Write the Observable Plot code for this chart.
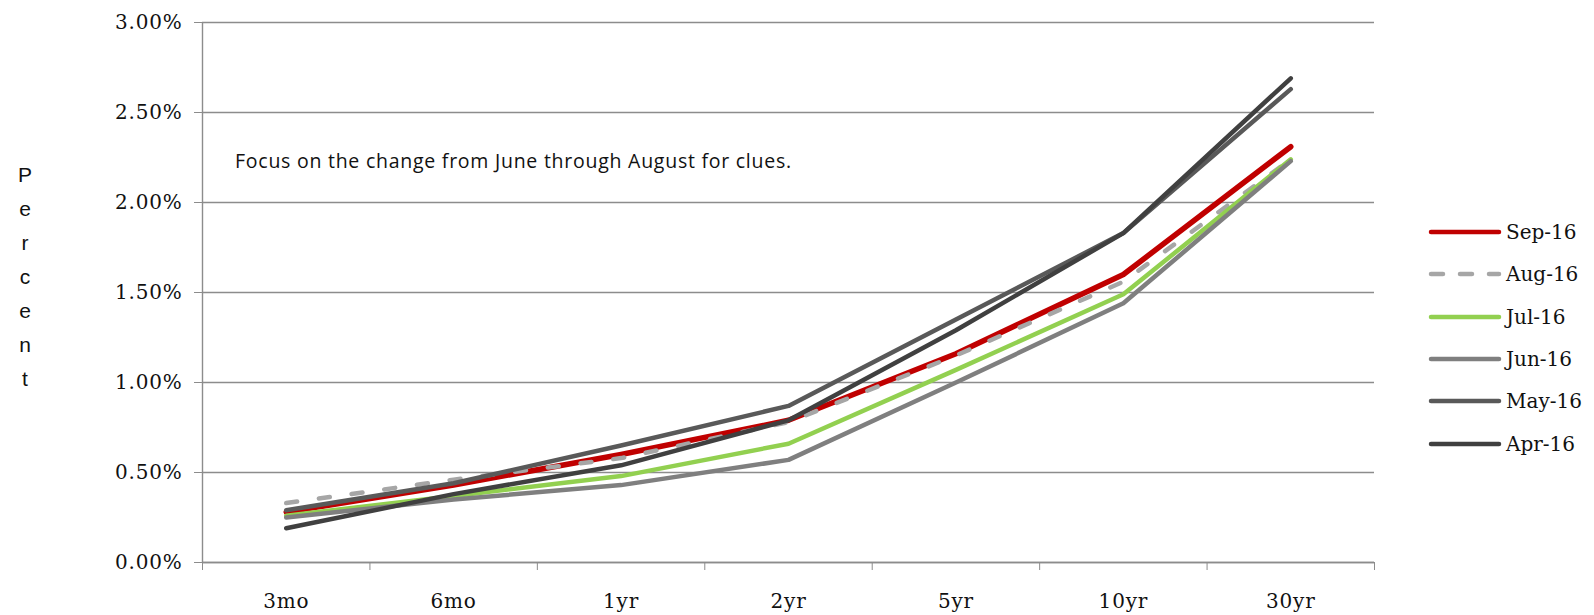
<!DOCTYPE html>
<html>
<head>
<meta charset="utf-8">
<script src="https://cdn.jsdelivr.net/npm/d3@7"></script>
<script src="https://cdn.jsdelivr.net/npm/@observablehq/plot@0.6"></script>
<style>
  html, body { margin: 0; padding: 0; background: #fff; }
  #wrap { position: relative; width: 1594px; height: 615px; overflow: hidden; }
  #ylabel { position: absolute; left: 13px; top: 158px; width: 24px; text-align: center;
    font-family: "Liberation Sans", Arial, sans-serif; font-size: 21px; line-height: 34px; color: #111; }
  #note { position: absolute; left: 235px; top: 147px; font-family: "Open Sans", sans-serif; font-size: 19.5px; letter-spacing: 0.75px; color: #111; white-space: nowrap; }
  #legend { position: absolute; left: 1428px; top: 211px; font-family: "DejaVu Serif", serif; font-size: 20px; color: #111; }
  .row { display: flex; align-items: center; height: 42.3px; }
  .row svg { margin-right: 4px; }
</style>
</head>
<body>
<div id="wrap">
  <div id="chart"></div>
  <div id="ylabel"></div>
  <div id="note"></div>
  <div id="legend"></div>
</div>
<script>
const categories = ["3mo", "6mo", "1yr", "2yr", "5yr", "10yr", "30yr"];
const seriesNames = ["Sep-16", "Aug-16", "Jul-16", "Jun-16", "May-16", "Apr-16"];
const sep16 = [0.28, 0.43, 0.60, 0.79, 1.16, 1.60, 2.31];
const aug16 = [0.33, 0.46, 0.58, 0.78, 1.15, 1.56, 2.24];
const jul16 = [0.26, 0.37, 0.48, 0.66, 1.07, 1.49, 2.24];
const jun16 = [0.25, 0.35, 0.43, 0.57, 1.00, 1.44, 2.23];
const may16 = [0.29, 0.44, 0.65, 0.87, 1.35, 1.83, 2.63];
const apr16 = [0.19, 0.38, 0.54, 0.79, 1.29, 1.83, 2.69];
const yTicks = [0, 0.5, 1.0, 1.5, 2.0, 2.5, 3.0];
const yLabelText = "Percent";
const noteText = "Focus on the change from June through August for clues.";

const seriesValues = [sep16, aug16, jul16, jun16, may16, apr16];
const colors = ["#c00000", "#a6a6a6", "#92d050", "#7f7f7f", "#595959", "#404040"];
const widths = [5.5, 4.5, 4.5, 4.5, 4.5, 4.5];
const dashes = [null, "11,22", null, null, null, null];

const rows = [];
seriesNames.forEach((name, s) => {
  seriesValues[s].forEach((v, i) => rows.push({series: name, tenor: categories[i], pos: i + 0.5, value: v}));
});

const lineMarks = seriesNames.map((name, s) =>
  Plot.line(rows.filter(r => r.series === name), {
    x: "pos", y: "value",
    stroke: colors[s], strokeWidth: widths[s],
    strokeDasharray: dashes[s] || undefined,
    strokeLinecap: "round", strokeLinejoin: "round"
  })
);

const boundaries = d3.range(0, categories.length + 1);
const centers = categories.map((c, i) => i + 0.5);

const chart = Plot.plot({
  width: 1594,
  height: 615,
  marginLeft: 202,
  marginRight: 220,
  marginTop: 22,
  marginBottom: 53,
  x: {type: "linear", domain: [0, categories.length], axis: null},
  y: {domain: [0, 3], axis: null},
  style: {background: "white", fontFamily: "DejaVu Serif, serif", fontSize: "20px", color: "#111"},
  marks: [
    Plot.gridY(yTicks, {stroke: "#8c8c8c", strokeOpacity: 1, strokeWidth: 1.4}),
    Plot.ruleX([0], {stroke: "#8c8c8c", strokeWidth: 1.4}),
    Plot.ruleY([0], {stroke: "#8c8c8c", strokeWidth: 1.4}),
    Plot.axisY(yTicks, {tickSize: 8, tickPadding: 12, stroke: "#8c8c8c", fill: "#111", fontSize: 20,
      tickFormat: d => d.toFixed(2) + "%", label: null}),
    Plot.axisX(boundaries, {tickSize: 8, stroke: "#8c8c8c", tickFormat: () => "", label: null}),
    Plot.axisX(centers, {tickSize: 0, tickPadding: 31, fill: "#111", fontSize: 20,
      tickFormat: (d, i) => categories[i], label: null}),
    ...lineMarks
  ]
});
chart.querySelectorAll("[aria-label='y-axis tick label'] text, [aria-label='x-axis tick label'] text").forEach(t => t.setAttribute("letter-spacing", "0.8"));
document.getElementById("chart").appendChild(chart);

document.getElementById("ylabel").innerHTML = yLabelText.split("").join("<br>");
document.getElementById("note").textContent = noteText;

const legend = document.getElementById("legend");
seriesNames.forEach((name, s) => {
  const row = document.createElement("div");
  row.className = "row";
  const dash = s === 1 ? 'stroke-dasharray="12,17"' : "";
  row.innerHTML = `<svg width="74" height="10"><line x1="3" y1="5" x2="71" y2="5" stroke="${colors[s]}" stroke-width="4.5" stroke-linecap="round" ${dash}/></svg><span>${name}</span>`;
  legend.appendChild(row);
});
</script>
</body>
</html>
